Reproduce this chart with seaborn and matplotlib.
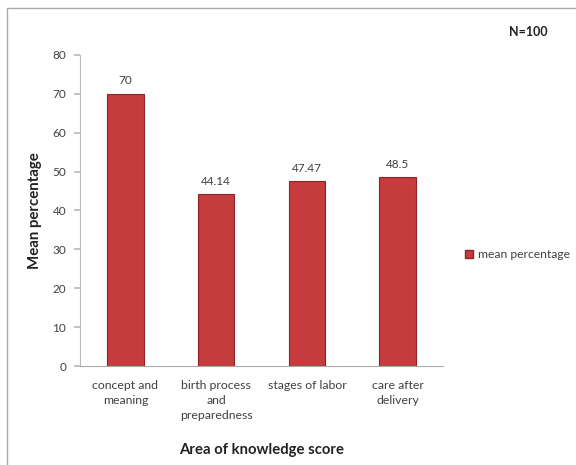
import matplotlib
matplotlib.use("Agg")
import matplotlib.pyplot as plt
import seaborn as sns
import pandas as pd
from matplotlib.patches import Rectangle
from matplotlib.lines import Line2D

categories = ["concept and\nmeaning", "birth process\nand\npreparedness", "stages of labor", "care after\ndelivery"]
values = [70, 44.14, 47.47, 48.5]
value_labels = ["70", "44.14", "47.47", "48.5"]
yticks = [0, 10, 20, 30, 40, 50, 60, 70, 80]

sns.set_theme(style="white")
plt.rcParams['font.family'] = ['Lato', 'DejaVu Sans']

df = pd.DataFrame({"cat": categories, "val": values})

fig = plt.figure(figsize=(5.76, 4.65), dpi=100)
ax = fig.add_axes([80/576, 1-366/465, 363/576, 311/465])

sns.barplot(data=df, x="cat", y="val", color="#C43C3C", width=0.4, ax=ax,
            edgecolor="#8E2325", linewidth=0.8, saturation=1)

txt = "#404040"
for i, (v, lab) in enumerate(zip(values, value_labels)):
    ax.text(i, v + 2, lab, ha="center", va="bottom", fontsize=8.5, color=txt)

ax.set_ylim(0, 80)
ax.set_yticks(yticks)
ax.set_yticklabels([str(t) for t in yticks], fontsize=8.5, color=txt)
ax.tick_params(axis="x", labelsize=8.8, colors=txt, length=0, pad=10)
ax.tick_params(axis="y", length=4, left=True, color="#BBBBBB", pad=6)
for lab in ax.get_xticklabels():
    lab.set_color(txt)
    lab.set_va("top")
    lab.set_linespacing(1.45)
ax.set_xlim(-0.5, 3.5)
for s in ["top", "right"]:
    ax.spines[s].set_visible(False)
ax.spines["left"].set_color("#BBBBBB")
ax.spines["bottom"].set_color("#AAAAAA")
ax.spines["left"].set_linewidth(0.8)
ax.spines["bottom"].set_linewidth(0.8)

ax.set_xlabel("Area of knowledge score", fontsize=10.7, fontweight="bold", color="#222222", labelpad=16)
ax.set_ylabel("Mean percentage", fontsize=10.8, fontweight="bold", color="#222222", labelpad=14)
ax.yaxis.set_label_coords(-(80 - 42) / 363, 0.5)

handle = Rectangle((0, 0), 1, 1, facecolor="#C43C3C", edgecolor="#8E2325")
fig.legend([handle], ["mean percentage"], loc="center left",
           bbox_to_anchor=(454/576, 1-255/465), frameon=False, fontsize=8.7,
           handlelength=0.7, handleheight=0.7, handletextpad=0.4, labelcolor=txt)

fig.text(548/576, 1-32/465, "N=100", ha="right", va="center", fontsize=9, fontweight="bold", color="#222222")

# outer frame
fig.add_artist(Line2D([7/576, 7/576], [0, 1-8/465], color="#AAAAAA", lw=1, transform=fig.transFigure))
fig.add_artist(Line2D([7/576, 1], [1-8/465, 1-8/465], color="#AAAAAA", lw=1, transform=fig.transFigure))

fig.savefig("out.png", dpi=100)
